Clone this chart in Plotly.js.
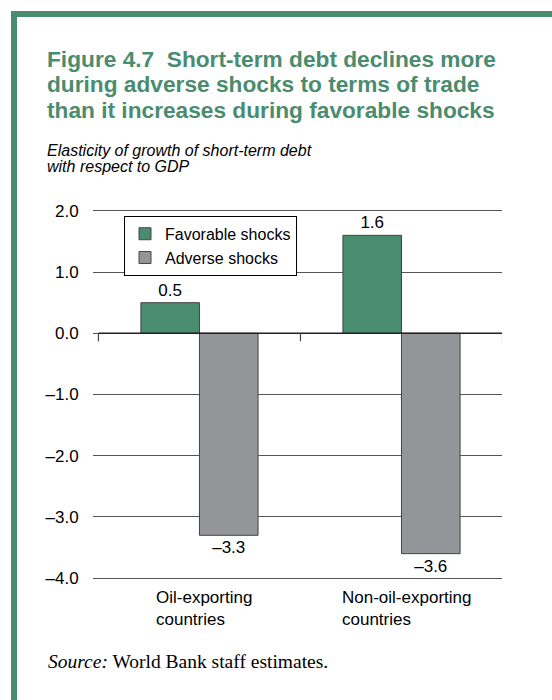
<!DOCTYPE html>
<html><head><meta charset="utf-8">
<script src="https://cdn.plot.ly/plotly-3.0.1.min.js"></script>
<style>
html,body{margin:0;padding:0;background:#fff;}
#chart{width:552px;height:700px;position:absolute;left:0;top:0;}
#frame{position:absolute;left:11px;top:11px;right:0;bottom:0;border-top:6px solid #4a8c6e;border-left:6px solid #4a8c6e;pointer-events:none;z-index:5;}
</style></head><body>
<div id="chart"></div><div id="frame"></div>
<script>
// ---- data ----
const categories = ["Oil-exporting countries", "Non-oil-exporting countries"];
const categoryLabels = ["Oil-exporting<br>countries", "Non-oil-exporting<br>countries"];
const seriesNames = ["Favorable shocks", "Adverse shocks"];
const favorable = [0.5, 1.6];
const adverse = [-3.3, -3.6];
const yTickVals = [2, 1, 0, -1, -2, -3, -4];
const titleLines = [
  "Figure 4.7  Short-term debt declines more",
  "during adverse shocks to terms of trade",
  "than it increases during favorable shocks"
];
const subtitleLines = ["Elasticity of growth of short-term debt", "with respect to GDP"];
const sourceNote = "<i>Source:</i> World Bank staff estimates.";

// ---- styling / layout helpers ----
const W = 552, H = 700, L = 93, R = 502;
const TOPVAL_PX = 211, BOTVAL_PX = 578;         // pixel rows of 2.0 and -4.0
const ppu = (BOTVAL_PX - TOPVAL_PX) / 6;
const PADV = 0.03;
const yRange = [-4 - PADV, 2 + PADV];
const T = TOPVAL_PX - PADV * ppu, B = BOTVAL_PX + PADV * ppu;
const px = x => (x - L) / (R - L);
const py = y => (B - y) / (B - T);
const fmt = v => v.toFixed(1).replace('-', '\u2013');
const GREEN = '#4a8c6e', GRAY = '#939598';
const SANS = 'Liberation Sans, Arial, sans-serif';
const SERIF = 'Liberation Serif, Times New Roman, serif';

const traces = [
  {type: 'bar', name: seriesNames[0], x: categories, y: favorable,
   text: favorable.map(fmt), textposition: 'outside', cliponaxis: false,
   textfont: {family: SANS, size: 17, color: '#000'},
   marker: {color: GREEN, line: {color: '#444', width: 1}}},
  {type: 'bar', name: seriesNames[1], x: categories, y: adverse,
   text: adverse.map(fmt), textposition: 'outside', cliponaxis: false,
   textfont: {family: SANS, size: 17, color: '#000'},
   marker: {color: GRAY, line: {color: '#444', width: 1}}}
];

const annotations = [];
titleLines.forEach((t, i) => annotations.push({
  text: '<b>' + t + '</b>', xref: 'paper', yref: 'paper', x: px(45), y: py(59 + i * 25.5),
  xanchor: 'left', yanchor: 'middle', showarrow: false,
  font: {family: SANS, size: 22.7, color: GREEN}}));
subtitleLines.forEach((t, i) => annotations.push({
  text: '<i>' + t + '</i>', xref: 'paper', yref: 'paper', x: px(45), y: py(151 + i * 16),
  xanchor: 'left', yanchor: 'middle', showarrow: false,
  font: {family: SANS, size: 16, color: '#000'}}));
categories.forEach((c, i) => annotations.push({
  text: categoryLabels[i], xref: 'x', yref: 'paper', x: c, y: py(586),
  xanchor: 'center', yanchor: 'top', align: 'left', showarrow: false, xshift: 5,
  font: {family: SANS, size: 17, color: '#000'}}));
annotations.push({
  text: sourceNote, xref: 'paper', yref: 'paper', x: px(46), y: py(661),
  xanchor: 'left', yanchor: 'middle', showarrow: false,
  font: {family: SERIF, size: 19.5, color: '#000'}});

const shapes = [
  {type: 'line', xref: 'x', yref: 'y', x0: -0.5, x1: 1.5, y0: 0, y1: 0,
   line: {color: '#222', width: 1.5}, layer: 'above'}
];
[-0.5, 0.5, 1.5].forEach(v => shapes.push({
  type: 'line', xref: 'x', yref: 'y', x0: v, x1: v, y0: 0, y1: -8 / ppu,
  line: {color: '#444', width: 1.2}, layer: 'above'}));

const layout = {
  width: W, height: H,
  margin: {l: L, r: W - R, t: T, b: H - B, pad: 0},
  paper_bgcolor: '#fff', plot_bgcolor: '#fff',
  barmode: 'group', bargap: 0.42, bargroupgap: 0,
  showlegend: true,
  legend: {x: px(124), y: py(216), xanchor: 'left', yanchor: 'top',
    bgcolor: '#fff', bordercolor: '#000', borderwidth: 1, itemwidth: 30,
    font: {family: SANS, size: 16, color: '#000'}, traceorder: 'normal'},
  xaxis: {type: 'category', range: [-0.527, 1.4975], showticklabels: false,
    showgrid: false, zeroline: false, showline: false, ticks: '', fixedrange: true},
  yaxis: {range: yRange, tickvals: yTickVals, ticktext: yTickVals.map(fmt),
    showgrid: true, gridcolor: '#555', gridwidth: 1, zeroline: false, showline: false,
    ticks: 'outside', ticklen: 10, tickcolor: 'rgba(0,0,0,0)',
    tickfont: {family: SANS, size: 17, color: '#000'}, fixedrange: true},
  annotations: annotations,
  shapes: shapes
};

Plotly.newPlot('chart', traces, layout, {displayModeBar: false, staticPlot: true});
</script>
</body></html>
